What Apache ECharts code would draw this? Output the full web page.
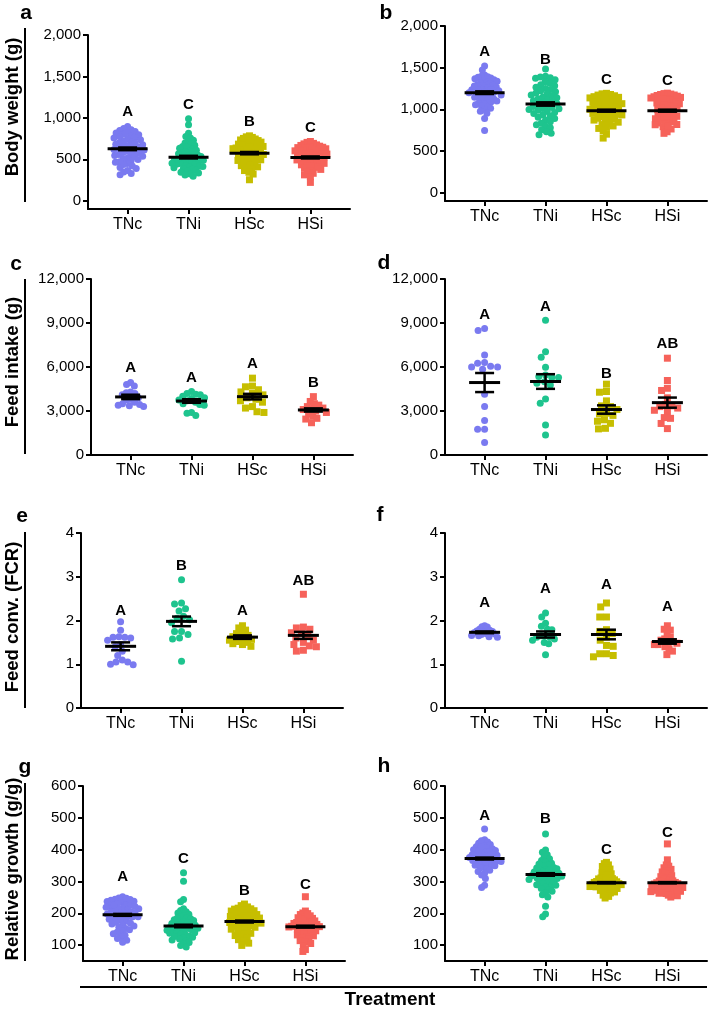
<!DOCTYPE html>
<html><head><meta charset="utf-8">
<script src="https://cdn.jsdelivr.net/npm/echarts@6/dist/echarts.min.js"></script>
<style>html,body{margin:0;padding:0;background:#fff}#c{width:709px;height:1009px}</style>
</head><body><div id="c"></div>
<script>
const categories = ['TNc', 'TNi', 'HSc', 'HSi'];

// a: Body weight (g)
const aTNc = [895, 871, 856, 848, 836, 822, 817, 801, 797, 784, 776, 763, 758, 741, 736, 722, 709, 703, 694, 681, 676, 663, 655, 648, 637, 632, 618, 611, 604, 596, 583, 577, 566, 559, 547, 538, 531, 517, 506, 498, 484, 471, 463, 449, 436, 418, 402, 389, 366, 347, 328, 313];
const aTNi = [988, 917, 814, 776, 758, 731, 712, 697, 684, 668, 655, 646, 633, 621, 609, 598, 589, 577, 568, 556, 549, 541, 533, 524, 517, 509, 502, 494, 487, 479, 471, 463, 456, 448, 441, 433, 424, 416, 407, 399, 388, 379, 368, 356, 345, 333, 321, 309, 296, 412, 452, 502];
const aHSc = [783, 771, 764, 752, 745, 733, 726, 718, 707, 699, 692, 683, 674, 668, 659, 651, 643, 636, 628, 619, 611, 604, 597, 588, 581, 573, 566, 558, 551, 543, 536, 528, 519, 511, 503, 494, 486, 476, 467, 457, 446, 434, 423, 409, 396, 381, 364, 343, 322, 655, 612, 253];
const aHSi = [715, 704, 692, 686, 674, 667, 658, 649, 641, 633, 627, 618, 611, 603, 596, 588, 581, 574, 566, 559, 551, 544, 537, 529, 522, 514, 507, 499, 492, 484, 476, 468, 459, 451, 442, 433, 424, 414, 403, 392, 378, 364, 347, 331, 312, 289, 221, 563, 602, 645];
const aMean = [626, 526, 574, 522];
const aSem = [16, 16, 14, 12];
const aLetters = ['A', 'C', 'B', 'C'];
const aLetterY = [1076, 1157, 956, 884];
const aTicks = [0, 500, 1000, 1500, 2000];

// b: Body weight (g)
const bTNc = [1521, 1473, 1412, 1398, 1392, 1386, 1377, 1368, 1356, 1347, 1338, 1326, 1318, 1307, 1296, 1288, 1276, 1267, 1259, 1248, 1239, 1231, 1222, 1214, 1206, 1198, 1189, 1181, 1172, 1163, 1154, 1146, 1137, 1128, 1118, 1109, 1099, 1088, 1077, 1066, 1054, 1041, 1027, 1013, 998, 978, 953, 891, 746, 1202, 1236, 1281];
const bTNi = [1484, 1398, 1387, 1379, 1372, 1355, 1331, 1312, 1296, 1283, 1266, 1249, 1238, 1224, 1211, 1197, 1186, 1173, 1162, 1149, 1138, 1126, 1114, 1103, 1092, 1081, 1069, 1058, 1046, 1035, 1023, 1011, 999, 988, 975, 963, 949, 936, 921, 906, 889, 871, 852, 833, 816, 798, 779, 754, 731, 712, 694, 1007];
const bHSc = [1192, 1186, 1178, 1171, 1163, 1152, 1144, 1137, 1126, 1118, 1109, 1101, 1093, 1084, 1076, 1068, 1059, 1051, 1043, 1035, 1026, 1018, 1009, 1001, 993, 985, 976, 968, 959, 951, 942, 933, 923, 914, 904, 893, 882, 871, 858, 846, 832, 817, 801, 783, 771, 743, 702, 655];
const bHSi = [1194, 1189, 1183, 1178, 1172, 1166, 1158, 1151, 1143, 1136, 1128, 1119, 1111, 1102, 1094, 1085, 1076, 1067, 1058, 1049, 1039, 1030, 1020, 1009, 999, 988, 977, 966, 954, 942, 929, 916, 902, 887, 871, 854, 836, 815, 792, 764, 731, 712, 862, 838, 905, 921, 795, 818];
const bMean = [1200, 1064, 984, 984];
const bSem = [16, 20, 12, 12];
const bLetters = ['A', 'B', 'C', 'C'];
const bLetterY = [1692, 1592, 1352, 1344];
const bTicks = [0, 500, 1000, 1500, 2000];

// c: Feed intake (g)
const cTNc = [4800, 4950, 4700, 4300, 4200, 4250, 4100, 3900, 3800, 3750, 3600, 3500, 3400, 3350, 3300, 3450];
const cTNi = [4330, 4200, 4150, 4100, 4000, 3900, 3850, 3750, 3700, 3600, 3500, 3450, 3400, 2900, 2850, 2700];
const cHSc = [5240, 4700, 4650, 4450, 4300, 4200, 4100, 3900, 3800, 3700, 3600, 3300, 3200, 2950, 2900];
const cHSi = [3980, 3650, 3500, 3400, 3300, 3200, 3150, 3100, 3000, 2900, 2800, 2650, 2500, 2450, 2200];
const cMean = [3960, 3680, 3980, 3070];
const cSem = [150, 120, 190, 110];
const cLetters = ['A', 'A', 'A', 'B'];
const cLetterY = [5920, 5237, 6193, 4895];
const cTicks = [0, 3000, 6000, 9000, 12000];

// d: Feed intake (g)
const dTNc = [8490, 8630, 6810, 6000, 6050, 6250, 6000, 5850, 6300, 4150, 3300, 2350, 1750, 1750, 850];
const dTNi = [9180, 7040, 6670, 5990, 5460, 5350, 5280, 5280, 5000, 4900, 4780, 3820, 3530, 2050, 1370];
const dHSc = [4830, 4330, 4280, 3690, 3300, 3350, 3100, 2800, 2850, 2700, 2400, 2160, 1820, 1780, 2300];
const dHSi = [6600, 5080, 4550, 4400, 3900, 3450, 3350, 3300, 3200, 3050, 2950, 2550, 2500, 2150, 1800];
const dMean = [4940, 5010, 3100, 3570];
const dSem = [650, 500, 285, 345];
const dLetters = ['A', 'A', 'B', 'AB'];
const dLetterY = [9563, 10087, 5533, 7582];
const dTicks = [0, 3000, 6000, 9000, 12000];

// e: Feed conv. (FCR)
const eTNc = [1.97, 1.78, 1.63, 1.62, 1.62, 1.60, 1.55, 1.45, 1.40, 1.30, 1.20, 1.10, 1.05, 1.05, 1.00, 0.99];
const eTNi = [2.93, 2.40, 2.38, 2.27, 2.22, 2.10, 2.02, 1.95, 1.75, 1.75, 1.68, 1.60, 1.58, 1.07, 2.05];
const eHSc = [1.88, 1.83, 1.78, 1.72, 1.70, 1.66, 1.63, 1.60, 1.58, 1.57, 1.55, 1.52, 1.50, 1.47, 1.45, 1.41];
const eHSi = [2.60, 1.85, 1.83, 1.80, 1.72, 1.70, 1.65, 1.60, 1.55, 1.50, 1.45, 1.42, 1.40, 1.32, 1.30];
const eMean = [1.41, 1.98, 1.62, 1.66];
const eSem = [0.09, 0.11, 0.04, 0.08];
const eLetters = ['A', 'B', 'A', 'AB'];
const eLetterY = [2.23, 3.24, 2.22, 2.91];
const eTicks = [0, 1, 2, 3, 4];

// f: Feed conv. (FCR)
const fTNc = [1.88, 1.86, 1.85, 1.80, 1.78, 1.76, 1.75, 1.73, 1.72, 1.70, 1.69, 1.68, 1.66, 1.65, 1.63, 1.62];
const fTNi = [2.17, 2.08, 1.94, 1.87, 1.80, 1.79, 1.65, 1.62, 1.65, 1.62, 1.58, 1.55, 1.50, 1.47, 1.22];
const fHSc = [2.40, 2.31, 2.08, 2.08, 1.79, 1.75, 1.70, 1.62, 1.55, 1.43, 1.41, 1.24, 1.24, 1.20, 1.17];
const fHSi = [1.88, 1.80, 1.78, 1.70, 1.62, 1.58, 1.55, 1.52, 1.50, 1.48, 1.45, 1.40, 1.35, 1.30, 1.22, 1.45];
const fMean = [1.73, 1.68, 1.68, 1.52];
const fSem = [0.02, 0.07, 0.11, 0.05];
const fLetters = ['A', 'A', 'A', 'A'];
const fLetterY = [2.40, 2.72, 2.82, 2.31];
const fTicks = [0, 1, 2, 3, 4];

// g: Relative growth (g/g)
const gTNc = [252, 248, 244, 241, 237, 234, 231, 228, 225, 222, 219, 216, 213, 211, 208, 205, 203, 200, 198, 196, 193, 191, 188, 186, 183, 181, 178, 175, 172, 169, 166, 163, 160, 156, 152, 148, 144, 140, 136, 131, 126, 121, 115, 109, 238, 226, 214, 201, 189, 247, 243, 221];
const gTNi = [327, 301, 243, 236, 214, 209, 205, 201, 197, 193, 190, 186, 183, 180, 177, 174, 171, 168, 165, 162, 160, 157, 155, 152, 150, 147, 145, 142, 139, 137, 134, 131, 128, 125, 122, 119, 116, 112, 108, 104, 99, 94, 158, 163, 171, 147, 184, 139, 127, 153];
const gHSc = [229, 224, 220, 216, 213, 210, 207, 204, 201, 199, 196, 193, 191, 188, 186, 183, 181, 178, 176, 174, 171, 169, 166, 164, 161, 159, 156, 153, 150, 147, 144, 141, 137, 134, 130, 126, 122, 117, 112, 106, 99, 208, 196, 185, 173, 162, 214, 190];
const gHSi = [252, 207, 201, 196, 192, 188, 184, 180, 177, 174, 171, 168, 165, 162, 159, 157, 154, 151, 149, 146, 143, 141, 138, 135, 132, 129, 126, 122, 118, 114, 110, 105, 98, 86, 80, 163, 170, 176, 181, 158, 150, 166, 186, 145, 199, 160];
const gMean = [195, 160, 174, 158];
const gSem = [3, 4, 3, 3];
const gLetters = ['A', 'C', 'B', 'C'];
const gLetterY = [314, 372, 270, 288];
const gTicks = [100, 200, 300, 400, 500, 600];

// h: Relative growth (g/g)
const hTNc = [465, 431, 428, 424, 420, 416, 412, 409, 406, 403, 400, 397, 394, 392, 389, 387, 384, 382, 379, 377, 375, 372, 370, 368, 365, 363, 360, 358, 355, 352, 349, 346, 343, 339, 335, 331, 326, 320, 309, 288, 281, 398, 385, 374, 361, 410, 351, 366];
const hTNi = [449, 399, 392, 384, 377, 371, 366, 361, 357, 352, 348, 344, 340, 337, 333, 330, 327, 324, 321, 318, 315, 312, 309, 306, 303, 300, 297, 294, 290, 286, 282, 278, 274, 269, 264, 258, 251, 222, 198, 189, 328, 335, 319, 311, 342, 301, 326, 288, 355, 316];
const hHSc = [360, 356, 352, 347, 343, 339, 335, 331, 327, 324, 320, 317, 314, 311, 308, 305, 302, 299, 297, 294, 291, 289, 286, 283, 281, 278, 276, 273, 270, 267, 264, 261, 257, 253, 248, 298, 292, 287, 303, 279, 284, 295, 309, 272, 290, 300, 285, 293];
const hHSi = [418, 368, 352, 348, 343, 338, 334, 330, 326, 322, 318, 315, 311, 308, 305, 302, 299, 296, 293, 290, 287, 284, 281, 278, 275, 272, 269, 266, 263, 259, 255, 251, 297, 288, 279, 271, 262, 283, 292, 276, 268, 286, 301, 257, 274, 294, 282, 265];
const hMean = [372, 322, 296, 296];
const hSem = [3, 4, 2, 2];
const hLetters = ['A', 'B', 'C', 'C'];
const hLetterY = [506, 496, 399, 454];
const hTicks = [100, 200, 300, 400, 500, 600];

const yTitles = ['Body weight (g)', 'Feed intake (g)', 'Feed conv. (FCR)', 'Relative growth (g/g)'];
const xTitle = 'Treatment';
const panelLetters = ['a', 'b', 'c', 'd', 'e', 'f', 'g', 'h'];

// ---------- styles / layout ----------
const COLORS = ['#7a7af0', '#1ec48e', '#c6be00', '#f6625a'];
const SHAPES = ['circle', 'circle', 'rect', 'rect'];
const FONT = '"Liberation Sans", Arial, sans-serif';
const XMIN = -0.65, XMAX = 3.65;

const panels = [
  {groups: [aTNc, aTNi, aHSc, aHSi], mean: aMean, sem: aSem, letters: aLetters, letterY: aLetterY, ticks: aTicks, ymin: -100, ymax: 2000, box: [88, 35, 262, 174], dense: true},
  {groups: [bTNc, bTNi, bHSc, bHSi], mean: bMean, sem: bSem, letters: bLetters, letterY: bLetterY, ticks: bTicks, ymin: -100, ymax: 2000, box: [445, 26, 262, 175], dense: true},
  {groups: [cTNc, cTNi, cHSc, cHSi], mean: cMean, sem: cSem, letters: cLetters, letterY: cLetterY, ticks: cTicks, ymin: 0, ymax: 12000, box: [91, 279, 262, 176], dense: false},
  {groups: [dTNc, dTNi, dHSc, dHSi], mean: dMean, sem: dSem, letters: dLetters, letterY: dLetterY, ticks: dTicks, ymin: 0, ymax: 12000, box: [445, 279, 262, 176], dense: false},
  {groups: [eTNc, eTNi, eHSc, eHSi], mean: eMean, sem: eSem, letters: eLetters, letterY: eLetterY, ticks: eTicks, ymin: 0, ymax: 4, box: [81, 533, 262, 175], dense: false},
  {groups: [fTNc, fTNi, fHSc, fHSi], mean: fMean, sem: fSem, letters: fLetters, letterY: fLetterY, ticks: fTicks, ymin: 0, ymax: 4, box: [445, 533, 262, 175], dense: false},
  {groups: [gTNc, gTNi, gHSc, gHSi], mean: gMean, sem: gSem, letters: gLetters, letterY: gLetterY, ticks: gTicks, ymin: 50, ymax: 600, box: [83, 786, 262, 175], dense: true},
  {groups: [hTNc, hTNi, hHSc, hHSi], mean: hMean, sem: hSem, letters: hLetters, letterY: hLetterY, ticks: hTicks, ymin: 50, ymax: 600, box: [445, 786, 262, 175], dense: true}
];

function commas(v) {
  return String(v).replace(/\B(?=(\d{3})+(?!\d))/g, ',');
}

// deterministic beeswarm: offsets (px) so that markers do not overlap,
// then squeezed to a maximum half-width like the original plotting software
function swarm(vals, pxPerUnit, d, cap) {
  const order = vals.map((v, i) => i).sort((i, j) => vals[j] - vals[i]);
  const placed = [];
  const off = new Array(vals.length).fill(0);
  for (const i of order) {
    const y = vals[i] * pxPerUnit;
    let x = 0;
    for (let k = 0; k < 600; k++) {
      const cand = (k % 2 === 0 ? 1 : -1) * Math.ceil(k / 2) * 0.5;
      let ok = true;
      for (const p of placed) {
        const dx = p.x - cand, dy = p.y - y;
        if (dx * dx + dy * dy < d * d) { ok = false; break; }
      }
      if (ok) { x = cand; break; }
    }
    placed.push({x: x, y: y});
    off[i] = x;
  }
  const maxAbs = Math.max(...off.map(Math.abs));
  const s = maxAbs > cap ? cap / maxAbs : 1;
  return off.map(o => o * s);
}

const option = {animation: false, grid: [], xAxis: [], yAxis: [], series: [], graphic: []};

panels.forEach((p, k) => {
  const [left, top, width, height] = p.box;
  option.grid.push({left: left, top: top, width: width, height: height});
  option.xAxis.push({
    type: 'value', gridIndex: k, min: XMIN, max: XMAX,
    axisLine: {show: true, onZero: false, lineStyle: {color: '#000', width: 2}},
    axisTick: {show: true, customValues: [0, 1, 2, 3], length: 5, lineStyle: {color: '#000', width: 2}},
    axisLabel: {show: true, customValues: [0, 1, 2, 3], formatter: v => categories[Math.round(v)], color: '#000', fontSize: 16, fontFamily: FONT, margin: 8},
    splitLine: {show: false}
  });
  option.yAxis.push({
    type: 'value', gridIndex: k, min: p.ymin, max: p.ymax,
    axisLine: {show: true, onZero: false, lineStyle: {color: '#000', width: 2}},
    axisTick: {show: true, customValues: p.ticks, length: 5, lineStyle: {color: '#000', width: 2}},
    axisLabel: {show: true, customValues: p.ticks, formatter: v => commas(v), color: '#000', fontSize: 15, fontFamily: FONT, margin: 7},
    splitLine: {show: false}
  });
  const pxPerUnit = height / (p.ymax - p.ymin);
  const unitsPerPx = (XMAX - XMIN) / width;
  const dist = p.dense ? 5.6 : 6.8;
  const cap = p.dense ? 16.5 : 13;
  p.groups.forEach((vals, g) => {
    const offs = swarm(vals, pxPerUnit, dist, cap);
    option.series.push({
      type: 'scatter', xAxisIndex: k, yAxisIndex: k, symbol: SHAPES[g], symbolSize: 7,
      itemStyle: {color: COLORS[g], opacity: 1}, silent: true, z: 2,
      data: vals.map((v, i) => [g + offs[i] * unitsPerPx, v])
    });
  });
  const meanW = p.dense ? 40 : 31, capW = 19;
  option.series.push({
    type: 'custom', xAxisIndex: k, yAxisIndex: k, z: 5, silent: true,
    data: p.mean.map((m, g) => [g, m, p.sem[g]]),
    encode: {x: 0, y: 1},
    renderItem: (params, api) => {
      const x = api.value(0), m = api.value(1), s = api.value(2);
      const c = api.coord([x, m]), t = api.coord([x, m + s]), b = api.coord([x, m - s]);
      const st = {stroke: '#000', lineWidth: 2.5};
      return {type: 'group', children: [
        {type: 'line', shape: {x1: c[0], y1: t[1], x2: c[0], y2: b[1]}, style: st},
        {type: 'line', shape: {x1: c[0] - capW / 2, y1: t[1], x2: c[0] + capW / 2, y2: t[1]}, style: st},
        {type: 'line', shape: {x1: c[0] - capW / 2, y1: b[1], x2: c[0] + capW / 2, y2: b[1]}, style: st},
        {type: 'line', shape: {x1: c[0] - meanW / 2, y1: c[1], x2: c[0] + meanW / 2, y2: c[1]}, style: {stroke: '#000', lineWidth: 3}}
      ]};
    }
  });
  option.series.push({
    type: 'custom', xAxisIndex: k, yAxisIndex: k, z: 6, silent: true,
    data: p.letterY.map((y, g) => [g, y]),
    encode: {x: 0, y: 1},
    renderItem: (params, api) => {
      const pt = api.coord([api.value(0), api.value(1)]);
      return {type: 'text', x: pt[0], y: pt[1], style: {text: p.letters[params.dataIndex], fill: '#000', fontSize: 15, fontWeight: 'bold', fontFamily: FONT, align: 'center', verticalAlign: 'middle'}};
    }
  });
});

// panel letters
const letterPos = [[26, 13], [386, 13], [16, 264], [384, 263], [22, 516], [380, 515], [25, 767], [384, 766]];
panelLetters.forEach((t, i) => {
  option.graphic.push({type: 'text', x: letterPos[i][0], y: letterPos[i][1], style: {text: t, fill: '#000', fontSize: 21, fontWeight: 'bold', fontFamily: FONT, align: 'center', verticalAlign: 'middle'}});
});
// y titles with bracket lines
const titleCfg = [[13, 107, 28, 202], [13, 362, 279, 454], [13, 617, 532, 708], [13, 869, 783, 961]];
yTitles.forEach((t, i) => {
  const c = titleCfg[i];
  option.graphic.push({type: 'text', x: c[0], y: c[1], rotation: Math.PI / 2, style: {text: t, fill: '#000', fontSize: 18.5, fontWeight: 'bold', fontFamily: FONT, align: 'center', verticalAlign: 'middle'}});
  option.graphic.push({type: 'line', shape: {x1: 25, y1: c[2], x2: 25, y2: c[3]}, style: {stroke: '#000', lineWidth: 2}});
});
option.graphic.push({type: 'line', shape: {x1: 80, y1: 987, x2: 707, y2: 987}, style: {stroke: '#000', lineWidth: 2}});
option.graphic.push({type: 'text', x: 390, y: 1000, style: {text: xTitle, fill: '#000', fontSize: 19, fontWeight: 'bold', fontFamily: FONT, align: 'center', verticalAlign: 'middle'}});

const chart = echarts.init(document.getElementById('c'), null, {renderer: 'canvas'});
chart.setOption(option);
</script>
</body></html>
